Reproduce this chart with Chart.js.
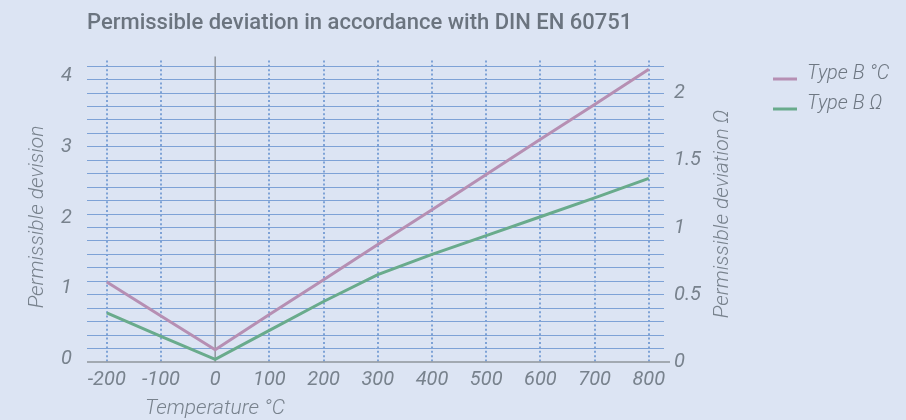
<!DOCTYPE html>
<html>
<head>
<meta charset="utf-8">
<script src="https://cdn.jsdelivr.net/npm/chart.js@4.4.1/dist/chart.umd.min.js"></script>
<style>
html,body{margin:0;padding:0;background:#dce4f3;}
canvas{display:block;}
</style>
</head>
<body>
<canvas id="c" width="906" height="420"></canvas>
<script>
// ---- data ----
const temperatures = [-200, -100, 0, 100, 200, 300, 400, 500, 600, 700, 800];
const typeBCelsius = [1.09, 0.61, 0.13, 0.63, 1.12, 1.62, 2.11, 2.61, 3.11, 3.60, 4.10];
const typeBOhm     = [0.365, 0.19, 0.02, 0.235, 0.45, 0.65, 0.80, 0.94, 1.08, 1.22, 1.365];
const seriesLabels = ['Type B °C', 'Type B Ω'];
const rightLabelValues = [0, 0.5, 1, 1.5, 2];
const chartTitle = 'Permissible deviation in accordance with DIN EN 60751';
const xTitle = 'Temperature °C';
const leftTitle = 'Permissible devision';
const rightTitle = 'Permissible deviation Ω';

// ---- styles ----
const BG = '#dce4f3';
const GRID = '#7ea2d6';
const AXIS = '#8f959c';
const TEXT = '#78828d';
const TITLE = '#6b747f';
const PURPLE = '#b68fb3';
const GREEN = '#69ab8c';
const FONT = 'Roboto, "Liberation Sans", Arial, sans-serif';
const tickFont = {family: FONT, size: 20, style: 'italic', weight: '400'};

const decor = {
  id: 'decor',
  beforeDraw(chart) {
    const {ctx, width, height} = chart;
    ctx.save();
    ctx.fillStyle = BG;
    ctx.fillRect(0, 0, width, height);
    ctx.restore();
  },
  beforeDatasetsDraw(chart) {
    const {ctx, chartArea} = chart;
    const xs = chart.scales.x;
    const x0 = xs.getPixelForValue(0);
    ctx.save();
    ctx.strokeStyle = AXIS;
    ctx.lineWidth = 1.5;
    ctx.beginPath();
    ctx.moveTo(x0, chartArea.top - 4);
    ctx.lineTo(x0, chartArea.bottom);
    ctx.moveTo(chartArea.left, chartArea.bottom);
    ctx.lineTo(chartArea.right + 6, chartArea.bottom);
    ctx.stroke();
    ctx.restore();
  },
  afterDraw(chart) {
    const {ctx} = chart;
    ctx.save();
    ctx.fillStyle = TEXT;
    ctx.font = 'italic 300 21px ' + FONT;
    ctx.textBaseline = 'alphabetic';
    ctx.textAlign = 'center';
    // x title
    ctx.fillText(xTitle, 215, 414);
    // left title
    ctx.save();
    ctx.translate(43, 217);
    ctx.rotate(-Math.PI / 2);
    ctx.fillText(leftTitle, 0, 0);
    ctx.restore();
    // right title
    ctx.save();
    ctx.translate(728, 214);
    ctx.rotate(-Math.PI / 2);
    ctx.fillText(rightTitle, 0, 0);
    ctx.restore();
    // legend
    ctx.font = 'italic 300 20px ' + FONT;
    ctx.textAlign = 'left';
    chart.data.datasets.forEach((ds, i) => {
      const y = 79 + i * 30;
      ctx.strokeStyle = ds.borderColor;
      ctx.lineWidth = 3;
      ctx.beginPath();
      ctx.moveTo(773, y);
      ctx.lineTo(797, y);
      ctx.stroke();
      ctx.fillStyle = '#6e7782';
      ctx.fillText(ds.label, 807, y - 0.5);
    });
    ctx.restore();
  }
};

new Chart(document.getElementById('c'), {
  type: 'line',
  data: {
    datasets: [
      {
        label: seriesLabels[0],
        data: temperatures.map((t, i) => ({x: t, y: typeBCelsius[i]})),
        borderColor: PURPLE,
        backgroundColor: PURPLE,
        borderWidth: 3,
        pointRadius: 0,
        tension: 0,
        fill: false,
        yAxisID: 'y'
      },
      {
        label: seriesLabels[1],
        data: temperatures.map((t, i) => ({x: t, y: typeBOhm[i]})),
        borderColor: GREEN,
        backgroundColor: GREEN,
        borderWidth: 3,
        pointRadius: 0,
        tension: 0,
        fill: false,
        yAxisID: 'y1'
      }
    ]
  },
  options: {
    responsive: false,
    animation: false,
    devicePixelRatio: 1,
    layout: {padding: 0},
    events: [],
    plugins: {
      legend: {display: false},
      tooltip: {enabled: false},
      title: {
        display: true,
        text: chartTitle,
        align: 'start',
        fullSize: false,
        color: TITLE,
        font: {family: FONT, size: 22, weight: '500'},
        padding: {top: 10, bottom: 24}
      }
    },
    scales: {
      x: {
        type: 'linear',
        min: -236.5,
        max: 828,
        ticks: {
          stepSize: 100,
          includeBounds: false,
          autoSkip: false,
          maxRotation: 0,
          color: TEXT,
          font: tickFont,
          padding: 6
        },
        grid: {
          color: (c) => (c.tick && c.tick.value === 0) ? 'rgba(0,0,0,0)' : GRID,
          lineWidth: 2,
          drawTicks: false
        },
        border: {display: false, dash: [2, 2.4]},
        afterFit(scale) { scale.height = 58; }
      },
      y: {
        type: 'linear',
        position: 'left',
        min: -0.042,
        max: 4.2235,
        ticks: {
          stepSize: 1,
          includeBounds: false,
          color: TEXT,
          font: tickFont,
          padding: 15
        },
        grid: {display: false, drawTicks: false},
        border: {display: false},
        afterFit(scale) { scale.width = 87; }
      },
      y1: {
        type: 'linear',
        position: 'right',
        min: 0,
        max: 2.2424,
        ticks: {
          stepSize: 0.1,
          includeBounds: false,
          autoSkip: false,
          color: TEXT,
          font: tickFont,
          padding: 10,
          callback: (v) => {
            const hit = rightLabelValues.find(r => Math.abs(r - v) < 1e-6);
            return hit === undefined ? '' : String(hit);
          }
        },
        grid: {
          color: (c) => (c.tick && Math.abs(c.tick.value) < 1e-9) ? 'rgba(0,0,0,0)' : GRID,
          lineWidth: 1,
          drawTicks: false
        },
        border: {display: false},
        afterFit(scale) { scale.width = 242; }
      }
    }
  },
  plugins: [decor]
});
</script>
</body>
</html>
